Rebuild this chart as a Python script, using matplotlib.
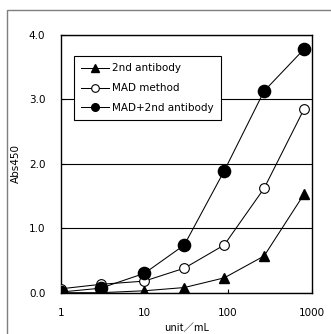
import matplotlib
matplotlib.use("Agg")
import matplotlib.pyplot as plt
from matplotlib.patches import Rectangle
from matplotlib.ticker import FixedLocator, FixedFormatter, NullLocator

# data
conc = [1, 3, 10, 30, 90, 270, 810]
second_ab = [0.00, 0.00, 0.03, 0.08, 0.23, 0.57, 1.53]
mad_method = [0.06, 0.13, 0.18, 0.38, 0.74, 1.62, 2.85]
mad_second = [0.01, 0.07, 0.30, 0.74, 1.89, 3.13, 3.78]
series_labels = ["2nd antibody", "MAD method", "MAD+2nd antibody"]
x_ticks = [1, 10, 100, 1000]
x_ticklabels = ["1", "10", "100", "1000"]
y_ticks = [0, 1, 2, 3, 4]
y_ticklabels = ["0.0", "1.0", "2.0", "3.0", "4.0"]

font_size = 7.5
plt.rcParams['font.family'] = ['DejaVu Sans']

fig = plt.figure(figsize=(3.31, 3.34), dpi=100)
fig.patches.append(Rectangle((7 / 331, -0.5), 2, 0.5 + 1 - 10 / 334, transform=fig.transFigure,
                             fill=False, edgecolor='#7f7f7f', lw=1.0, figure=fig))
ax = fig.add_axes([60.7 / 331, 1 - 292.7 / 334, 251 / 331, 257.7 / 334])

ax.plot(conc, second_ab, '-^', color='black', lw=0.75, ms=7.5, mfc='black', label=series_labels[0], zorder=3)
ax.plot(conc, mad_method, '-o', color='black', lw=0.75, ms=7, mfc='white', mew=0.8, label=series_labels[1], zorder=3)
ax.plot(conc, mad_second, '-o', color='black', lw=0.75, ms=8.8, mfc='black', label=series_labels[2], zorder=4)

ax.set_xscale('log')
ax.set_xlim(1, 1000)
ax.set_ylim(0, 4)
ax.xaxis.set_major_locator(FixedLocator(x_ticks))
ax.xaxis.set_major_formatter(FixedFormatter(x_ticklabels))
ax.xaxis.set_minor_locator(NullLocator())
ax.set_yticks(y_ticks)
ax.set_yticklabels(y_ticklabels)
ax.tick_params(axis='both', direction='in', length=3, width=0.8, labelsize=font_size, pad=11)
ax.grid(True, axis='y', color='black', lw=0.8)
for s in ax.spines.values():
    s.set_linewidth(1.0)

ax.set_ylabel("Abs450", fontsize=font_size, labelpad=6)
ax.set_xlabel("unit／mL", fontsize=font_size, family=['Noto Sans CJK JP', 'DejaVu Sans'], labelpad=4)

leg = ax.legend(loc='upper left', bbox_to_anchor=(13.5 / 251, 1 - 21 / 257.7), fontsize=font_size,
                frameon=True, fancybox=False, edgecolor='black', framealpha=1, handlelength=2.6,
                borderaxespad=0, labelspacing=0.95, handletextpad=0.3, borderpad=0.7)
leg.get_frame().set_linewidth(0.8)
for h in leg.legend_handles:
    h.set_markersize(5.5)

fig.savefig("out.png", dpi=100)
